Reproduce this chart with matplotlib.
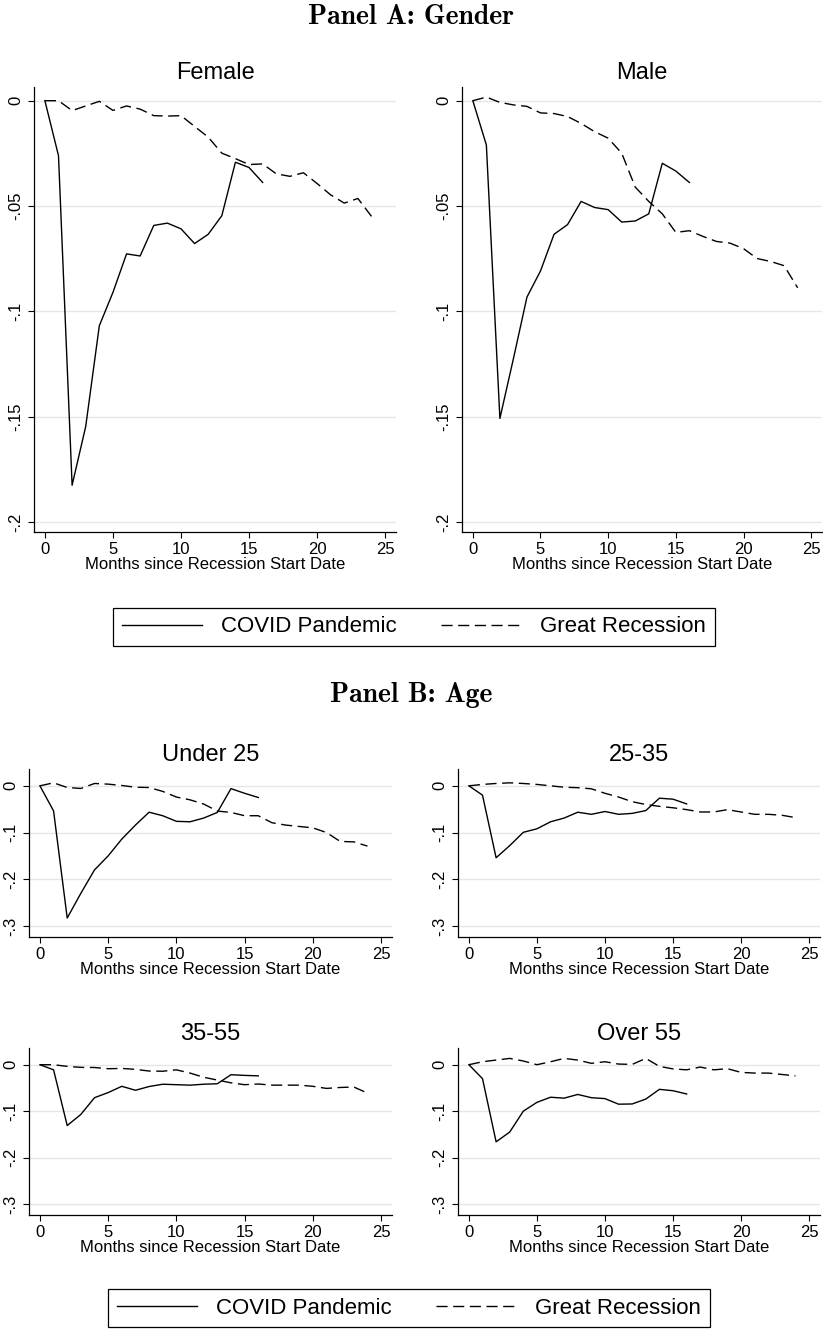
import matplotlib
matplotlib.use('Agg')
import matplotlib.pyplot as plt

months_covid = list(range(17))
months_gr = list(range(25))

# Panel A: gender
female_covid = [0, -0.0261, -0.1825, -0.1546, -0.1068, -0.091, -0.0727, -0.0737, -0.0592, -0.0581,
                -0.0608, -0.0678, -0.0634, -0.0546, -0.0292, -0.0317, -0.0388]
female_gr = [0, 0, -0.0047, -0.0025, -0.0003, -0.0046, -0.0025, -0.004, -0.0071, -0.0073, -0.0071,
             -0.0122, -0.0173, -0.0249, -0.0275, -0.0303, -0.030, -0.0347, -0.0359, -0.0342, -0.0393,
             -0.0447, -0.0486, -0.0464, -0.0549]
male_covid = [0, -0.021, -0.1508, -0.1224, -0.0932, -0.0808, -0.0634, -0.0588, -0.0478, -0.0507,
              -0.0517, -0.0576, -0.0571, -0.0537, -0.0297, -0.0334, -0.0388]
male_gr = [0, 0.0017, -0.0008, -0.002, -0.0027, -0.0058, -0.0061, -0.0075, -0.0108, -0.0147, -0.0178,
           -0.0249, -0.041, -0.0478, -0.0537, -0.0625, -0.0617, -0.0644, -0.0668, -0.0676, -0.0702,
           -0.0749, -0.0763, -0.0783, -0.0888]

# Panel B: age
u25_covid = [0, -0.0537, -0.283, -0.230, -0.180, -0.150, -0.114, -0.084, -0.0565, -0.064, -0.076,
             -0.077, -0.069, -0.057, -0.006, -0.016, -0.025]
u25_gr = [0, 0.0064, -0.0036, -0.0057, 0.005, 0.0036, 0.0007, -0.003, -0.0036, -0.012, -0.024, -0.030,
          -0.039, -0.054, -0.057, -0.064, -0.064, -0.079, -0.084, -0.087, -0.090, -0.100, -0.119,
          -0.120, -0.129]
a2535_covid = [0, -0.020, -0.154, -0.128, -0.0995, -0.092, -0.077, -0.069, -0.0565, -0.061, -0.055,
               -0.061, -0.059, -0.053, -0.0265, -0.0286, -0.0387]
a2535_gr = [0, 0.003, 0.005, 0.0064, 0.005, 0.003, 0, -0.003, -0.004, -0.0064, -0.016, -0.024, -0.034,
            -0.040, -0.044, -0.047, -0.051, -0.056, -0.056, -0.051, -0.056, -0.061, -0.061, -0.063,
            -0.068]
a3555_covid = [0, -0.011, -0.131, -0.107, -0.071, -0.060, -0.0465, -0.055, -0.047, -0.042, -0.043,
               -0.044, -0.042, -0.041, -0.0215, -0.023, -0.024]
a3555_gr = [0, 0, -0.0036, -0.0057, -0.006, -0.0086, -0.008, -0.010, -0.0136, -0.014, -0.011, -0.018,
            -0.027, -0.033, -0.039, -0.043, -0.0415, -0.044, -0.044, -0.044, -0.0465, -0.051, -0.049,
            -0.048, -0.061]
o55_covid = [0, -0.030, -0.166, -0.145, -0.100, -0.081, -0.070, -0.072, -0.064, -0.071, -0.073,
             -0.085, -0.0845, -0.074, -0.053, -0.056, -0.063]
o55_gr = [0, 0.0064, 0.010, 0.0136, 0.008, 0, 0.0064, 0.0136, 0.010, 0.003, 0.0064, 0.0014, 0.0007,
          0.0136, -0.0036, -0.009, -0.011, -0.005, -0.011, -0.0086, -0.0165, -0.018, -0.018, -0.021,
          -0.024]

xticks = [0, 5, 10, 15, 20, 25]
yticks_a = [0, -0.05, -0.1, -0.15, -0.2]
ylabels_a = ['0', '-.05', '-.1', '-.15', '-.2']
yticks_b = [0, -0.1, -0.2, -0.3]
ylabels_b = ['0', '-.1', '-.2', '-.3']

W, H = 823, 1331
plt.rcParams['font.family'] = ['Liberation Sans', 'DejaVu Sans']
fig = plt.figure(figsize=(W / 100, H / 100), dpi=100)


def box(l, r, t, b):
    return [l / W, 1 - b / H, (r - l) / W, (b - t) / H]


def panel(rect, title, covid, gr, yticks, ylabels, ylim):
    ax = fig.add_axes(rect)
    l1, = ax.plot(months_covid, covid, color='black', lw=1.0)
    l2, = ax.plot(months_gr, gr, color='black', lw=1.0)
    l2.set_dashes([8, 4])
    ax.set_xlim(-0.8, 25.8)
    ax.set_ylim(*ylim)
    ax.set_xticks(xticks)
    ax.set_yticks(yticks)
    ax.set_yticklabels(ylabels, rotation=90, va='center')
    ax.tick_params(labelsize=12, length=4, width=0.8, color='black')
    ax.grid(axis='y', color='#e6e6e6', lw=1.0)
    ax.set_axisbelow(True)
    for s in ['top', 'right']:
        ax.spines[s].set_visible(False)
    for s in ['left', 'bottom']:
        ax.spines[s].set_linewidth(0.9)
    ax.set_title(title, fontsize=17, pad=6)
    ax.set_xlabel('Months since Recession Start Date', fontsize=12, labelpad=0)
    return l1, l2


lim_a = (-0.2047, 0.0065)
lim_b = (-0.3236, 0.036)
h1, h2 = panel(box(34, 396, 87, 532), 'Female', female_covid, female_gr, yticks_a, ylabels_a, lim_a)
panel(box(462, 822, 87, 532), 'Male', male_covid, male_gr, yticks_a, ylabels_a, lim_a)
panel(box(29, 392, 769, 937), 'Under 25', u25_covid, u25_gr, yticks_b, ylabels_b, lim_b)
panel(box(458, 820, 769, 937), '25-35', a2535_covid, a2535_gr, yticks_b, ylabels_b, lim_b)
panel(box(29, 392, 1048, 1215), '35-55', a3555_covid, a3555_gr, yticks_b, ylabels_b, lim_b)
panel(box(458, 820, 1048, 1215), 'Over 55', o55_covid, o55_gr, yticks_b, ylabels_b, lim_b)

fig.text(0.5, 1 - 24 / H, 'Panel A: Gender', family='cmb10', fontsize=20, ha='center', va='baseline')
fig.text(0.5, 1 - 702 / H, 'Panel B: Age', family='cmb10', fontsize=20, ha='center', va='baseline')

for cy, cx in [(627, 414), (1308, 409)]:
    leg = fig.legend([h1, h2], ['COVID Pandemic', 'Great Recession'], loc='center',
                     bbox_to_anchor=(cx / W, 1 - cy / H), ncol=2, fontsize=16,
                     handlelength=3.6, handletextpad=0.85, columnspacing=2.0,
                     borderpad=0.4, borderaxespad=0, fancybox=False, framealpha=1,
                     edgecolor='black')
    leg.get_frame().set_linewidth(0.9)

fig.savefig('out.png', dpi=100)
